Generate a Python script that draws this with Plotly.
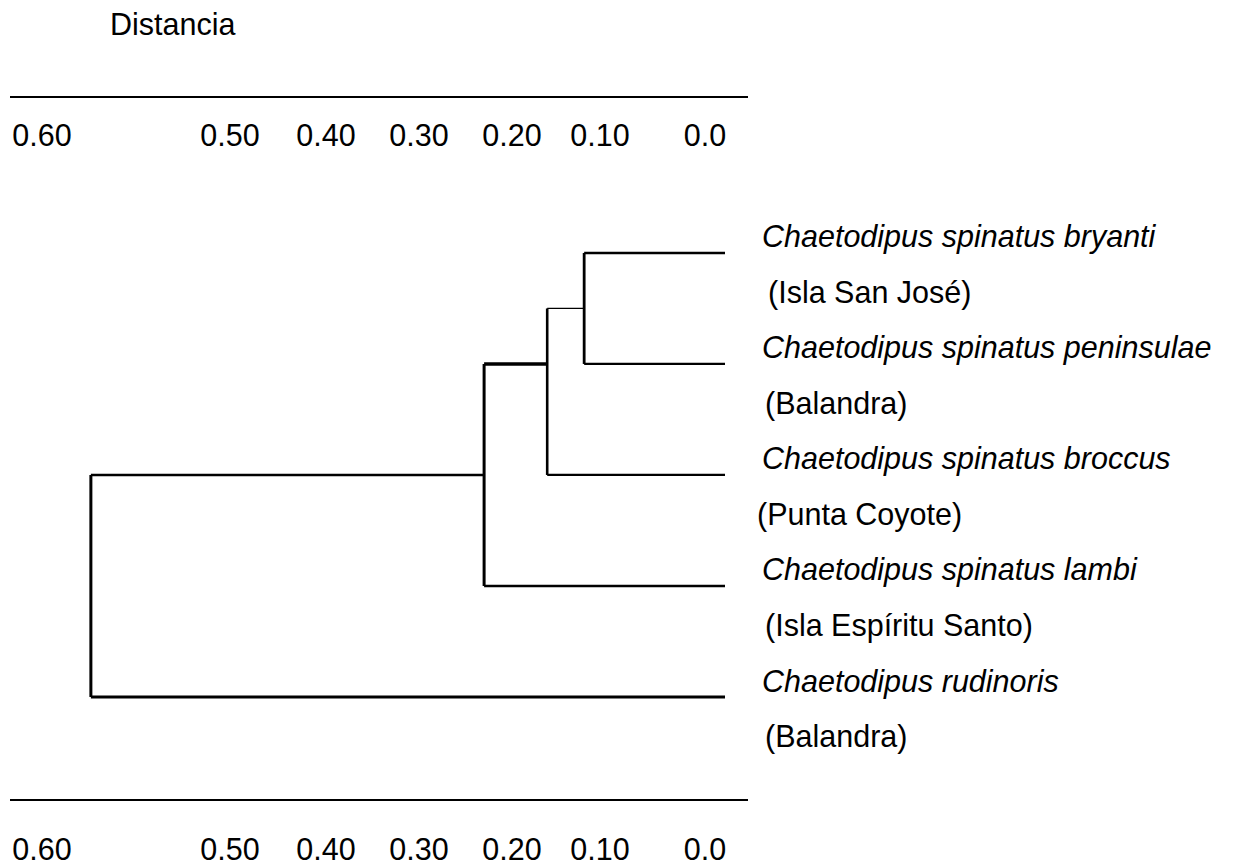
import numpy as np
import plotly.graph_objects as go

# ---------------- data ----------------
TICK_LABELS = ["0.60", "0.50", "0.40", "0.30", "0.20", "0.10", "0.0"]
TICK_DISTANCES = [0.60, 0.50, 0.40, 0.30, 0.20, 0.10, 0.0]

SPECIES = [
    "Chaetodipus spinatus bryanti",
    "Chaetodipus spinatus peninsulae",
    "Chaetodipus spinatus broccus",
    "Chaetodipus spinatus lambi",
    "Chaetodipus rudinoris",
]
LOCALITIES = [
    "(Isla San José)",
    "(Balandra)",
    "(Punta Coyote)",
    "(Isla Espíritu Santo)",
    "(Balandra)",
]

# clusters: leaves are 0..4, merged nodes are 5..8
MERGE_LEFT = [0, 5, 6, 7]
MERGE_RIGHT = [1, 2, 3, 4]
MERGE_DISTANCE = [0.118, 0.16, 0.23, 0.574]
MERGE_ROW = [0.5, 1.0, 2.0, 3.0]   # row at which each cluster joins its parent

# ---------------- layout / style constants ----------------
TICK_POS = [42, 230, 326, 419, 512, 600, 705]   # irregular printed scale
LEAF_END = 725
X_RANGE = [10, 748]
Y_RANGE = [4.919, -1.396]
FONT = "Liberation Sans, Arial, sans-serif"
FS = 30.5
NODE_VWIDTH = [2.8, 2.6, 3.0, 3.0]
NODE_HWIDTH = [1.2, 3.6, 2.6, 3.0]   # connector from node to its parent
LEAF_WIDTH = [2.6, 2.2, 2.2, 2.6, 3.0]
LOC_X = [766, 763, 755, 763, 763]
SPECIES_X = 760


def disp(d):
    return float(np.interp(d, TICK_DISTANCES[::-1], TICK_POS[::-1]))


def px_paper(xv):
    return (xv - X_RANGE[0]) / (X_RANGE[1] - X_RANGE[0])


def py_paper(row):
    return (row - Y_RANGE[0]) / (Y_RANGE[1] - Y_RANGE[0])


n_leaf = len(SPECIES)
xpos = {i: LEAF_END for i in range(n_leaf)}
ypos = {i: float(i) for i in range(n_leaf)}
hwidth = {i: LEAF_WIDTH[i] for i in range(n_leaf)}
for k in range(len(MERGE_DISTANCE)):
    node = n_leaf + k
    xpos[node] = disp(MERGE_DISTANCE[k])
    ypos[node] = MERGE_ROW[k]
    hwidth[node] = NODE_HWIDTH[k]

fig = go.Figure()
for k in range(len(MERGE_DISTANCE)):
    node = n_leaf + k
    xn = xpos[node]
    l, r = MERGE_LEFT[k], MERGE_RIGHT[k]
    fig.add_trace(go.Scatter(x=[xn, xn], y=[ypos[l], ypos[r]], mode="lines",
                             line=dict(color="black", width=NODE_VWIDTH[k]),
                             hoverinfo="skip", showlegend=False))
    for c in (l, r):
        fig.add_trace(go.Scatter(x=[xn, xpos[c]], y=[ypos[c], ypos[c]], mode="lines",
                                 line=dict(color="black", width=hwidth[c]),
                                 hoverinfo="skip", showlegend=False))

# invisible trace carrying the top axis
fig.add_trace(go.Scatter(x=[X_RANGE[0]], y=[0], xaxis="x2", mode="markers",
                         marker=dict(opacity=0), hoverinfo="skip", showlegend=False))

annotations = []
for i in range(n_leaf):
    annotations.append(dict(x=px_paper(SPECIES_X), y=py_paper(i - 0.144), xref="paper", yref="paper",
                            text=SPECIES[i], showarrow=False, xanchor="left", yanchor="middle",
                            font=dict(family=FONT, size=FS, color="black", style="italic")))
    annotations.append(dict(x=px_paper(LOC_X[i]), y=py_paper(i + 0.36), xref="paper", yref="paper",
                            text=LOCALITIES[i], showarrow=False, xanchor="left", yanchor="middle",
                            font=dict(family=FONT, size=FS, color="black")))
annotations.append(dict(x=px_paper(172), y=py_paper(-2.063), xref="paper", yref="paper",
                        text="Distancia", showarrow=False, xanchor="center", yanchor="middle",
                        font=dict(family=FONT, size=FS, color="black")))

axis_common = dict(range=X_RANGE, tickvals=TICK_POS, ticktext=TICK_LABELS,
                   showgrid=False, zeroline=False, showline=True, linecolor="black",
                   linewidth=2.2, ticks="", automargin=False,
                   tickfont=dict(family=FONT, size=FS, color="black"))

fig.update_layout(
    width=1235, height=867,
    margin=dict(l=10, r=487, t=98, b=68),
    paper_bgcolor="white", plot_bgcolor="white",
    xaxis=dict(**axis_common, side="bottom", ticklabelstandoff=22),
    xaxis2=dict(**axis_common, side="top", overlaying="x", matches="x",
                ticklabelposition="inside", ticklabelstandoff=30),
    yaxis=dict(range=Y_RANGE, visible=False, automargin=False),
    annotations=annotations,
    showlegend=False,
)

fig.write_html("out.html")
